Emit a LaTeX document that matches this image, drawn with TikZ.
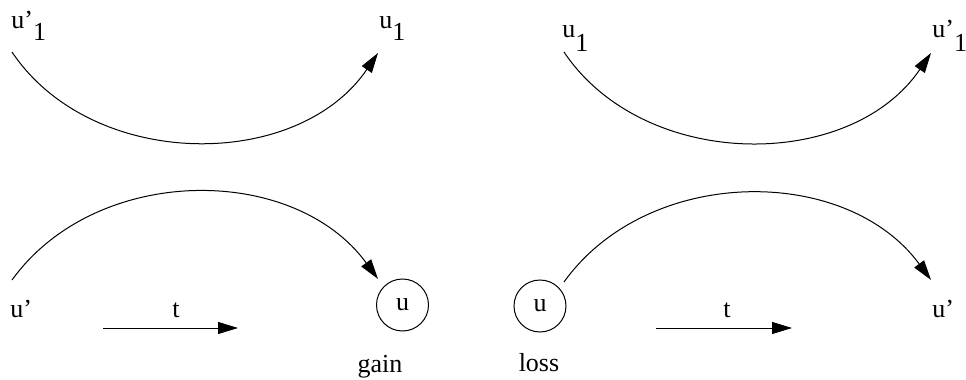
\documentclass[tikz,border=0pt]{standalone}
\usepackage{fontspec}
\setmainfont{Liberation Serif}
\usetikzlibrary{arrows.meta}

\newcommand{\lowidx}[2][6pt]{\raisebox{-#1}{#2}}

\begin{document}
\begin{tikzpicture}[
      x=0.5pt, y=0.5pt,
      font=\fontsize{13}{15}\selectfont,
      lbl/.style={inner sep=0pt, anchor=base west},
      midlbl/.style={inner sep=0pt, anchor=base},
      state/.style={
        draw,
        circle,
        line width=0.5pt,
        minimum size=26pt,
        inner sep=0pt
      },
      jump/.style={-{Triangle[length=10pt,width=6pt]},line width=0.5pt},
      timearrow/.style={-{Triangle[length=10pt,width=6pt]},line width=0.5pt}
    ]
    \useasboundingbox (0,0) rectangle (966,-380);

    % gain (left half)
    \node[lbl] (gupp) at (11,-28) {u’\lowidx{1}};
    \node[lbl] (gup) at (379,-28) {u\lowidx{1}};
    \node[lbl] (gp) at (10,-317) {u’};
    \node[midlbl] (gt) at (176,-317) {t};
    \node[state] (gu) at (402.5,-305) {u};
    \node[midlbl] (gain) at (380,-372) {gain};
    \coordinate (ga1) at (12,-52);
    \coordinate (ga2) at (378,-53);
    \coordinate (gb1) at (12,-280);
    \coordinate (gb2) at (378,-279);
    \coordinate (gt1) at (103,-328);
    \coordinate (gt2) at (238,-328);

    % loss (right half)
    \node[lbl] (lup) at (562,-38) {u\lowidx[7pt]{1}};
    \node[lbl] (lupp) at (932,-38) {u’\lowidx[7pt]{1}};
    \node[state] (lu) at (540,-306) {u};
    \node[midlbl] (lt) at (727,-317) {t};
    \node[lbl] (lp) at (932,-317) {u’};
    \node[midlbl] (loss) at (539,-371) {loss};
    \coordinate (la1) at (564,-52);
    \coordinate (la2) at (931,-53);
    \coordinate (lb1) at (564,-282);
    \coordinate (lb2) at (931,-280);
    \coordinate (lt1) at (656,-328);
    \coordinate (lt2) at (792,-328);

    \draw[jump] (ga1) to[bend right=56] (ga2);
    \draw[jump] (gb1) to[bend left=54] (gb2);
    \draw[timearrow] (gt1) -- (gt2);
    \draw[jump] (la1) to[bend right=56] (la2);
    \draw[jump] (lb1) to[bend left=54] (lb2);
    \draw[timearrow] (lt1) -- (lt2);
  \end{tikzpicture}
\end{document}
